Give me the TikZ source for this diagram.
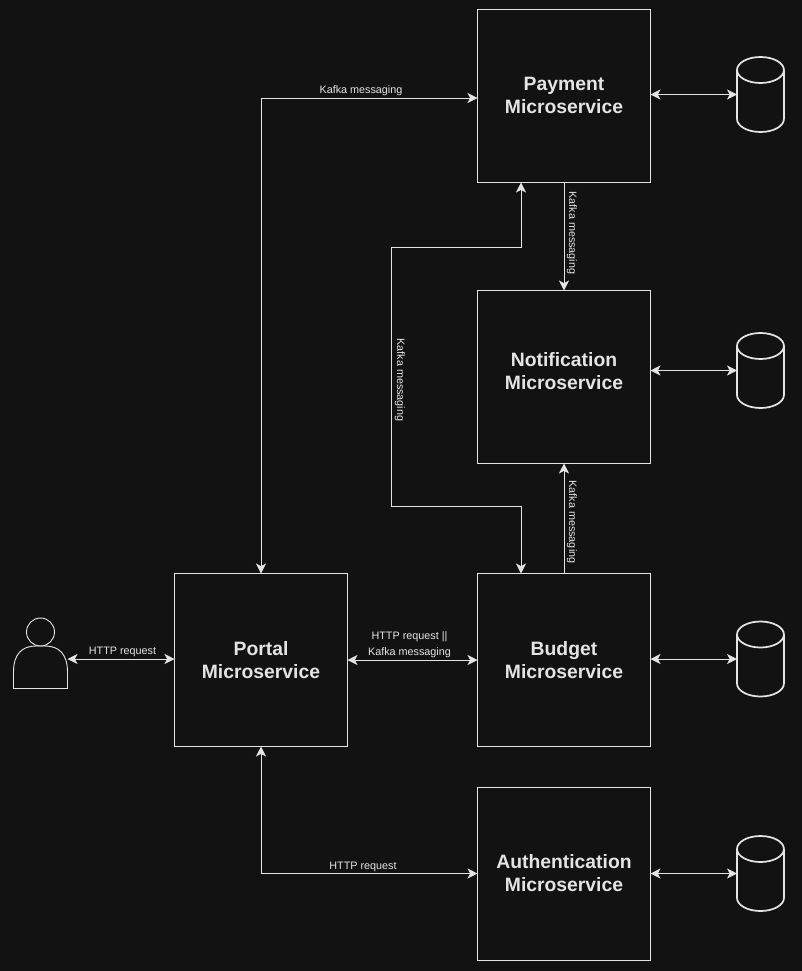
\documentclass[tikz,border=0pt]{standalone}
\usepackage{fontspec}
\setmainfont{Liberation Sans}
\usetikzlibrary{arrows.meta}
\definecolor{bgdark}{HTML}{121212}
\definecolor{linelight}{HTML}{E4E4E4}
\tikzset{
    box/.style={draw=linelight, line width=.7pt, minimum size=129.75pt, outer sep=0pt, inner sep=0pt},
    boxtext/.style={text=linelight, align=center, inner sep=0pt, font=\bfseries\fontsize{14.5}{17.25}\selectfont},
    db/.style={minimum width=35.25pt, minimum height=56.25pt, inner sep=0pt, outer sep=0pt},
    dbline/.style={draw=linelight, line width=1.3pt},
    link/.style={draw=linelight, line width=.7pt, {Stealth[length=7.5pt,width=7.5pt,inset=2pt]}-{Stealth[length=7.5pt,width=7.5pt,inset=2pt]}},
    linkone/.style={draw=linelight, line width=.7pt, -{Stealth[length=7.5pt,width=7.5pt,inset=2pt]}},
    msg/.style={text=linelight, inner sep=0pt, align=center, font=\fontsize{8.1}{12}\selectfont},
}
\begin{document}
\begin{tikzpicture}[x=.75pt,y=-.75pt]
    \fill[bgdark] (0,0) rectangle (802,971);
    \useasboundingbox (0,0) rectangle (802,971);

    \node[box] (portal) at (261,660) {};
    \node[boxtext] (portaltext) at (261,660) {Portal\\Microservice};
    \node[box] (payment) at (564,96) {};
    \node[boxtext] (paymenttext) at (564,95) {Payment\\Microservice};
    \node[box] (notification) at (564,377) {};
    \node[boxtext] (notificationtext) at (564,371.5) {Notification\\Microservice};
    \node[box] (budget) at (564,660) {};
    \node[boxtext] (budgettext) at (564,660) {Budget\\Microservice};
    \node[box] (auth) at (564,873.5) {};
    \node[boxtext] (authtext) at (564,873.5) {Authentication\\Microservice};

    % databases
    \foreach \name/\ypos in {dbpayment/94.5, dbnotification/370.5, dbbudget/659, dbauth/873.5} {
        \node[db] (\name) at (760.5,\ypos) {};
        \draw[dbline, shift={(\name.center)}] (-23.5,-24.5) arc[start angle=180,end angle=540,x radius=17.6pt,y radius=9.75pt] -- (-23.5,24.5) arc[start angle=180,end angle=360,x radius=17.6pt,y radius=9.75pt] -- (23.5,-24.5);
    }

    % user
    \node[draw=linelight, line width=.7pt, circle, minimum size=21pt, inner sep=0pt] (userhead) at (40.5,632) {};
    \draw[linelight, line width=.7pt] (13.5,688.5) -- (13.5,672) .. controls (13.5,654) and (22,646) .. (36,646) -- (45,646) .. controls (59,646) and (67.5,654) .. (67.5,672) -- (67.5,688.5) -- cycle;
    \coordinate (user) at (67.5,659);

    \draw[link] (user) -- (portal.west |- user);
    \node[msg] (userlabel) at (122.5,652) {HTTP request};

    \draw[link] (portal.north) |- ([yshift=-1.5pt]payment.west);
    \node[msg] (paymentlabel) at (361,91) {Kafka messaging};

    \draw[link] (portal.east) -- (budget.west);
    \node[msg] (budgetlabel) at (409.5,644.5) {HTTP request ||\\Kafka messaging};

    \draw[link] (portal.south) |- (auth.west);
    \node[msg] (authlabel) at (363,867) {HTTP request};

    \draw[linkone] (payment.south) -- (notification.north);
    \node[msg, rotate=-90] (notifylabel) at (572,233) {Kafka messaging};

    \draw[linkone] (budget.north) -- (notification.south);
    \node[msg, rotate=-90] (budgetnotifylabel) at (572,522) {Kafka messaging};

    \draw[link] ([xshift=-32.25pt]budget.north) -- ++(0,-67) -- ++(-130,0) -- ++(0,-259) -- ++(130,0) -- ([xshift=-32.25pt]payment.south);
    \node[msg, rotate=-90] (budgetpaylabel) at (400,380) {Kafka messaging};

    \draw[link] (payment.east |- dbpayment.west) -- (dbpayment.west);
    \draw[link] (notification.east |- dbnotification.west) -- (dbnotification.west);
    \draw[link] (budget.east |- dbbudget.west) -- (dbbudget.west);
    \draw[link] (auth.east |- dbauth.west) -- (dbauth.west);
\end{tikzpicture}
\end{document}
